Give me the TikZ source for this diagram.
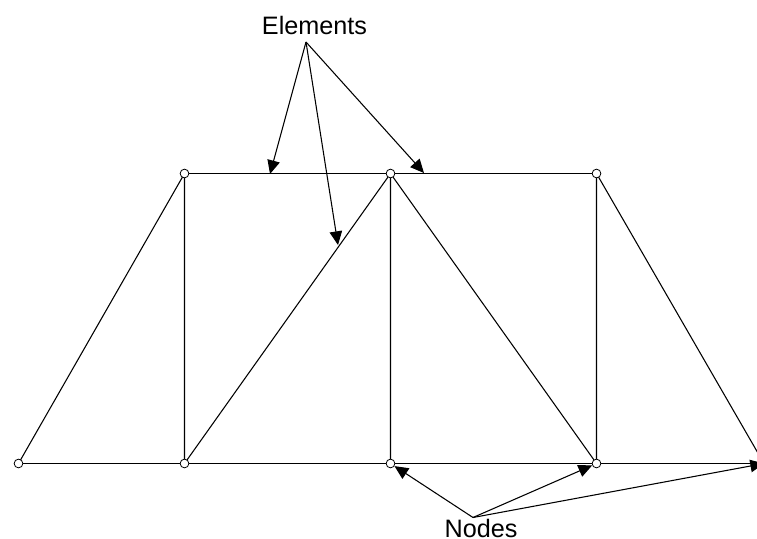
\documentclass[tikz,border=0pt]{standalone}
\usepackage{fontspec}
\setmainfont{Liberation Sans}
\usetikzlibrary{arrows.meta}
\tikzset{
  joint/.style={circle, draw, fill=white, inner sep=0pt, minimum size=2.3mm, line width=0.6pt},
  pointer/.style={-{Triangle[length=3.6mm,width=3.3mm]}, line width=0.8pt},
  member/.style={line width=0.8pt},
  caption/.style={font=\fontsize{18.9pt}{21pt}\selectfont, inner sep=0pt}
}
\begin{document}
\begin{tikzpicture}[x=0.75pt, y=-0.75pt]
  \useasboundingbox (0,0) rectangle (757,539);
  \clip (0,0) rectangle (757,539);
  % Free ends of the pointers
  \coordinate (E) at (306,42);
  \coordinate (N) at (473,517.5);
  \coordinate (P1) at (270,174);
  \coordinate (P2) at (338,245);
  \coordinate (P3) at (424,173);
  \coordinate (n5) at (764,463.5);
  
  % Members
  \coordinate (a0) at (18.5,463.5);
  \coordinate (a1) at (184.5,463.5);
  \coordinate (a2) at (390.5,463.5);
  \coordinate (a3) at (596.5,463.5);
  \coordinate (b1) at (184.5,173.5);
  \coordinate (b2) at (390.5,173.5);
  \coordinate (b3) at (596.5,173.5);
  \draw[member] (a0) -- (n5);
  \draw[member] (b1) -- (b3);
  \draw[member] (a0) -- (b1) -- (a1) -- (b2) -- (a2);
  \draw[member] (b2) -- (a3) -- (b3) -- (n5);
  
  % Joints
  \foreach \p/\q in {a0/A0, a1/A1, a2/A2, a3/A3, b1/B1, b2/B2, b3/B3}
    \node[joint] (\q) at (\p) {};
  
  % Labels
  \node[caption] (elements) at (314.5,25) {Elements};
  \node[caption] (nodes) at (481,528.5) {Nodes};
  
  % Pointers
  \draw[pointer] (E) -- (P1);
  \draw[pointer] (E) -- (P2);
  \draw[pointer] (E) -- (P3);
  \draw[pointer] (N) -- (A2);
  \draw[pointer] (N) -- (A3);
  \draw[pointer] (N) -- (n5);
\end{tikzpicture}
\end{document}
